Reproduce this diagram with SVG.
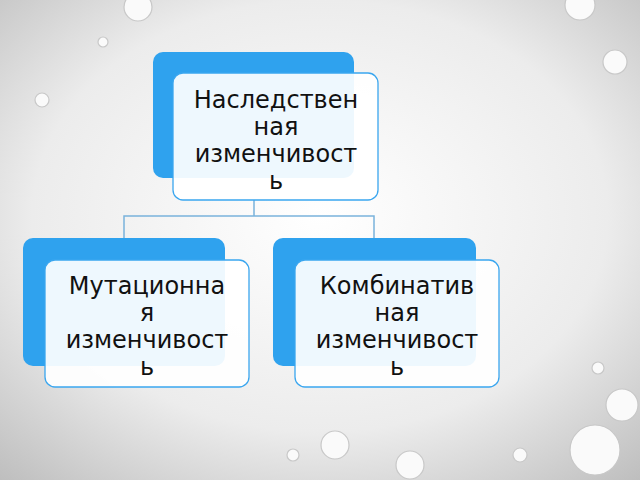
<svg xmlns="http://www.w3.org/2000/svg" width="640" height="480" viewBox="0 0 640 480">
<defs>
<radialGradient id="bg" cx="0.5" cy="0.45" r="0.75">
<stop offset="0" stop-color="#ffffff"/><stop offset="0.6" stop-color="#ececec"/><stop offset="1" stop-color="#bdbdbd"/>
</radialGradient>
<style>
.back{fill:#2fa2ee;}
.front{fill:#ffffff;fill-opacity:0.92;stroke:#3aa6ef;stroke-width:1.3;}
.t{font-family:"DejaVu Sans",sans-serif;font-size:24px;fill:#111;text-anchor:middle;}
.c{fill:none;stroke:#7ab3dc;stroke-width:1.5;}
.b{fill:#fafafa;stroke:#c8c8c8;stroke-width:1.2;}
</style>
</defs>
<rect width="640" height="480" fill="url(#bg)"/>
<g>
<circle class="b" cx="138" cy="7" r="14"/><circle class="b" cx="615" cy="62" r="12"/><circle class="b" cx="42" cy="100" r="7"/>
<circle class="b" cx="103" cy="42" r="5"/><circle class="b" cx="580" cy="5" r="15"/><circle class="b" cx="622" cy="405" r="16"/>
<circle class="b" cx="335" cy="445" r="14"/><circle class="b" cx="410" cy="465" r="14"/><circle class="b" cx="595" cy="450" r="25"/>
<circle class="b" cx="293" cy="455" r="6"/><circle class="b" cx="520" cy="455" r="7"/><circle class="b" cx="598" cy="368" r="6"/>
</g>
<g id="connectors">
<path class="c" d="M254 200 V216 M124 238 V216 H374 V238"/>
</g>
<g id="top">
<rect class="back" x="153" y="52" width="201" height="126" rx="10"/>
<rect class="front" x="173" y="73" width="205" height="127" rx="10"/>
<text class="t"><tspan x="276" y="108">Наследствен</tspan><tspan x="276" y="135">ная</tspan><tspan x="276" y="162">изменчивост</tspan><tspan x="276" y="189">ь</tspan></text>
</g>
<g id="left">
<rect class="back" x="23" y="238" width="202" height="128" rx="10"/>
<rect class="front" x="45" y="260" width="204" height="127" rx="10"/>
<text class="t"><tspan x="147" y="294">Мутационна</tspan><tspan x="147" y="321">я</tspan><tspan x="147" y="348">изменчивост</tspan><tspan x="147" y="375">ь</tspan></text>
</g>
<g id="right">
<rect class="back" x="273" y="238" width="203" height="128" rx="10"/>
<rect class="front" x="295" y="260" width="204" height="127" rx="10"/>
<text class="t"><tspan x="397" y="294">Комбинатив</tspan><tspan x="397" y="321">ная</tspan><tspan x="397" y="348">изменчивост</tspan><tspan x="397" y="375">ь</tspan></text>
</g>
</svg>
